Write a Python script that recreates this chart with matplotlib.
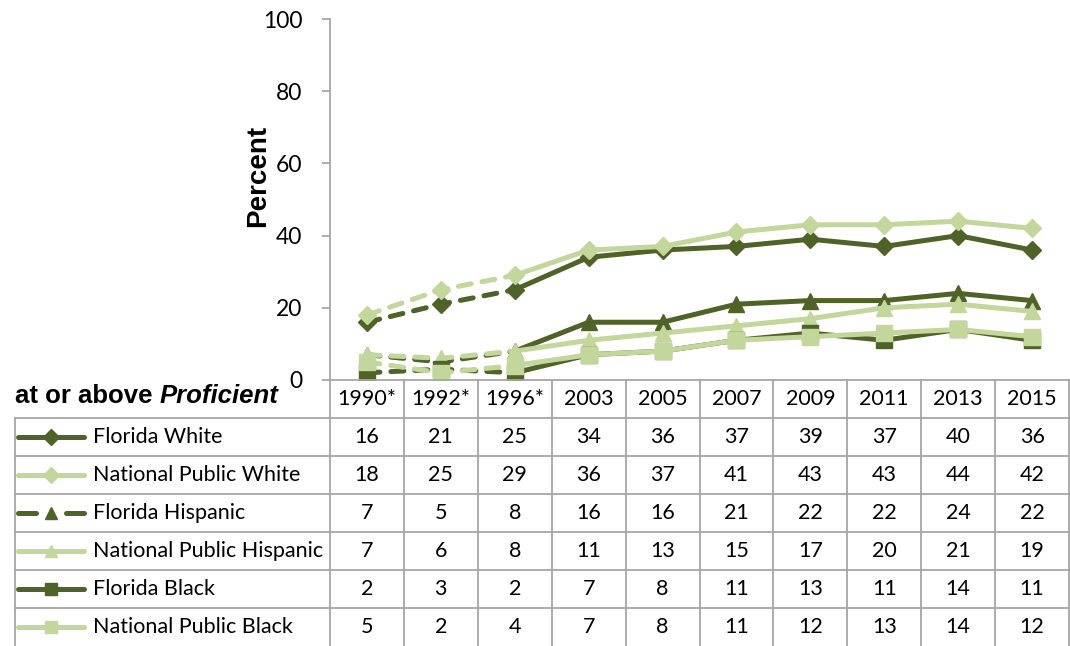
import matplotlib
matplotlib.use("Agg")
import matplotlib.pyplot as plt

years = ["1990*", "1992*", "1996*", "2003", "2005", "2007", "2009", "2011", "2013", "2015"]
series_names = ["Florida White", "National Public White", "Florida Hispanic",
                "National Public Hispanic", "Florida Black", "National Public Black"]
florida_white = [16, 21, 25, 34, 36, 37, 39, 37, 40, 36]
national_white = [18, 25, 29, 36, 37, 41, 43, 43, 44, 42]
florida_hispanic = [7, 5, 8, 16, 16, 21, 22, 22, 24, 22]
national_hispanic = [7, 6, 8, 11, 13, 15, 17, 20, 21, 19]
florida_black = [2, 3, 2, 7, 8, 11, 13, 11, 14, 11]
national_black = [5, 2, 4, 7, 8, 11, 12, 13, 14, 12]
yticks = [0, 20, 40, 60, 80, 100]

series = [florida_white, national_white, florida_hispanic,
          national_hispanic, florida_black, national_black]
DARK = "#4F6228"
LIGHT = "#C3D69B"
colors = [DARK, LIGHT, DARK, LIGHT, DARK, LIGHT]
markers = ["D", "D", "^", "^", "s", "s"]
msizes = [9.5, 9.5, 11, 11, 11, 11]
GRID = "#A6A6A6"
LW = 3.6
TFONT = "Lato"
TSIZE = 15.5

W, H = 1070, 646
fig = plt.figure(figsize=(W / 100, H / 100), dpi=100)

x0, x1 = 330, 1069
ytop, ybot = 19, 380
ax = fig.add_axes([x0 / W, (H - ybot) / H, (x1 - x0) / W, (ybot - ytop) / H])
n = len(years)
xs = list(range(n))
for vals, c, m, ms in zip(series, colors, markers, msizes):
    ax.plot(xs[:3], vals[:3], color=c, lw=LW, linestyle=(0, (2.6, 2.2)),
            dash_capstyle="round", solid_capstyle="round")
    ax.plot(xs[2:], vals[2:], color=c, lw=LW, solid_joinstyle="round")
    ax.plot(xs, vals, linestyle="none", marker=m, markersize=ms, color=c,
            markeredgecolor=c)
ax.set_xlim(-0.5, n - 0.5)
ax.set_ylim(0, 100)
ax.set_yticks(yticks)
ax.set_yticklabels([str(v) for v in yticks], fontsize=16.5, family=TFONT)
ax.set_xticks([])
for s in ["top", "right", "bottom"]:
    ax.spines[s].set_visible(False)
ax.spines["left"].set_color(GRID)
ax.spines["left"].set_linewidth(1.3)
ax.tick_params(axis="y", length=6, color=GRID, width=1.3, pad=14)
ax.patch.set_alpha(0)

# overlay for table
ov = fig.add_axes([0, 0, 1, 1])
ov.set_xlim(0, W)
ov.set_ylim(H, 0)
ov.axis("off")
ov.patch.set_alpha(0)

ov.text(258, 176, "Percent", rotation=90, ha="center", va="center",
        fontsize=20, fontweight="bold", family="Liberation Sans")

colw = (x1 - x0) / n
rowh = 38
hdr_top = ybot
rows_top = hdr_top + rowh
tleft = 15
ov.plot([x0, x1], [hdr_top, hdr_top], color=GRID, lw=1.3)
for i in range(len(series)):
    y = rows_top + i * rowh
    ov.plot([tleft, x1], [y, y], color=GRID, lw=1.3)
ov.plot([tleft, tleft], [rows_top, H], color=GRID, lw=1.3)
for k in range(n + 1):
    xv = x0 + k * colw
    ov.plot([xv, xv], [hdr_top, H], color=GRID, lw=1.3)

for k, yr in enumerate(years):
    ov.text(x0 + (k + 0.5) * colw, hdr_top + rowh / 2, yr, ha="center", va="center",
            fontsize=TSIZE, family=TFONT)
t1 = ov.text(tleft, hdr_top + rowh / 2 - 3, "at or above ", ha="left", va="center",
             fontsize=18.5, fontweight="bold", family="Liberation Sans")
fig.canvas.draw()
inv = ov.transData.inverted()
bb = t1.get_window_extent()
xp = inv.transform((bb.x1, bb.y0))[0]
ov.text(xp, hdr_top + rowh / 2 - 3, "Proficient", ha="left", va="center",
        fontsize=18.5, fontweight="bold", style="italic", family="Liberation Sans")

for i, (name, vals, c, m, ms) in enumerate(zip(series_names, series, colors, markers, msizes)):
    yc = rows_top + (i + 0.5) * rowh
    if i == 2:
        ov.plot([18, 36], [yc, yc], color=c, lw=LW, solid_capstyle="round")
        ov.plot([66, 84], [yc, yc], color=c, lw=LW, solid_capstyle="round")
    else:
        ov.plot([18, 84], [yc, yc], color=c, lw=LW, solid_capstyle="round")
    ov.plot([51], [yc], marker=m, markersize=ms * 0.85, color=c, linestyle="none")
    ov.text(93, yc, name, ha="left", va="center", fontsize=TSIZE, family=TFONT)
    for k, v in enumerate(vals):
        ov.text(x0 + (k + 0.5) * colw, yc, str(v), ha="center", va="center",
                fontsize=TSIZE, family=TFONT)

fig.savefig("out.png", dpi=100)
